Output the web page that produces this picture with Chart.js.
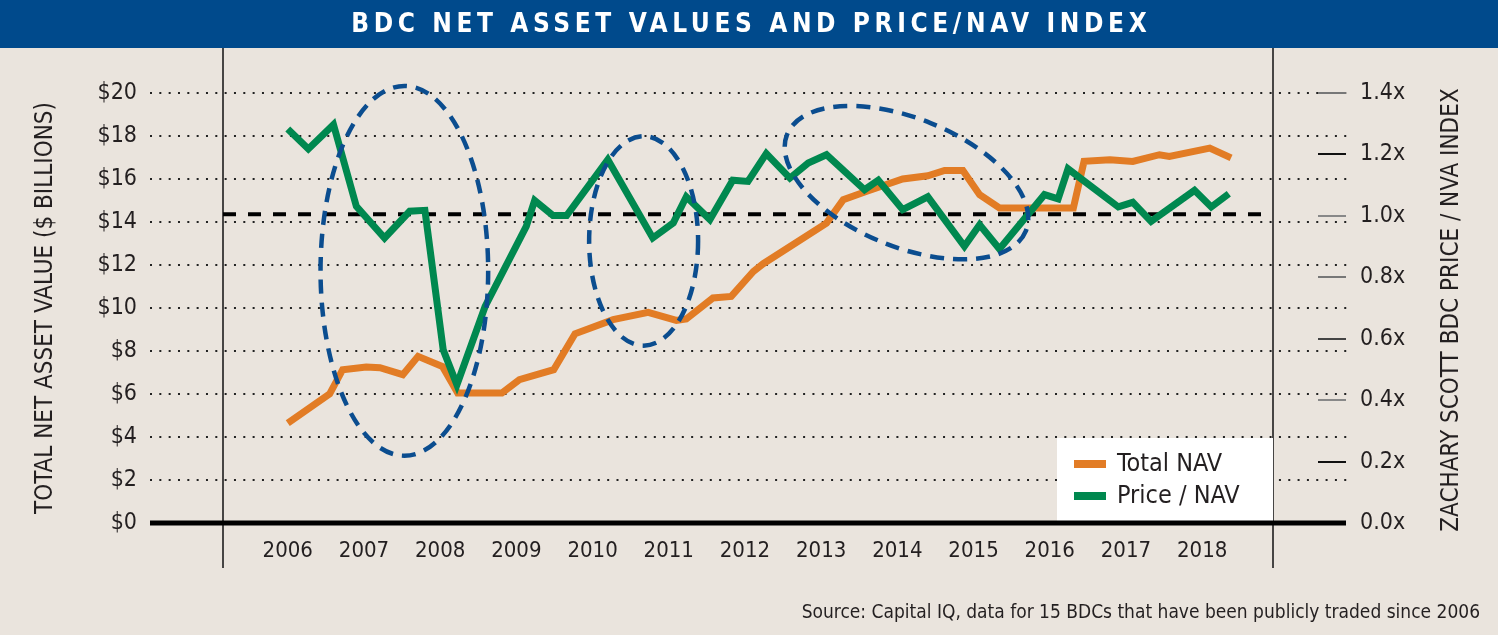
<!DOCTYPE html>
<html>
<head>
<meta charset="utf-8">
<script src="https://cdn.jsdelivr.net/npm/chart.js@4.4.0/dist/chart.umd.min.js"></script>
<style>
  html, body { margin:0; padding:0; background:#EAE4DD; }
  canvas { display:block; }
</style>
</head>
<body>
<canvas id="chart" width="1498" height="635"></canvas>
<script>
const FONT = "'Liberation Sans Narrow', 'DejaVu Sans Condensed', 'Roboto Condensed', sans-serif";
const INK = "#231f20";
const ORANGE = "#E27C25", GREEN = "#00884F", RING = "#0B4D8F", NAVY = "#004A8C", BG = "#EAE4DD";

const TITLE = "BDC NET ASSET VALUES AND PRICE/NAV INDEX";
const SOURCE = "Source: Capital IQ, data for 15 BDCs that have been publicly traded since 2006";
const LEFT_TITLE = "TOTAL NET ASSET VALUE ($ BILLIONS)";
const RIGHT_TITLE = "ZACHARY SCOTT BDC PRICE / NVA INDEX";

// x axis labels (years)
const yearTicks = [2006, 2007, 2008, 2009, 2010, 2011, 2012, 2013, 2014, 2015, 2016, 2017, 2018];
const dollarTicks = [0, 2, 4, 6, 8, 10, 12, 14, 16, 18, 20];
const ratioTicks = [0, 0.2, 0.4, 0.6, 0.8, 1.0, 1.2, 1.4];

// Total NAV ($ billions)
const navYears = [2006.00, 2006.55, 2006.72, 2007.03, 2007.21, 2007.51, 2007.71, 2008.03, 2008.23, 2008.81,
  2009.04, 2009.49, 2009.77, 2010.27, 2010.73, 2011.10, 2011.23, 2011.58, 2011.82, 2012.11,
  2012.24, 2013.07, 2013.29, 2013.59, 2014.07, 2014.40, 2014.62, 2014.86, 2015.08, 2015.34,
  2016.31, 2016.45, 2016.79, 2017.09, 2017.44, 2017.57, 2018.10, 2018.38];
const navValues = [4.65, 6.01, 7.13, 7.25, 7.22, 6.90, 7.75, 7.28, 6.05, 6.05,
  6.67, 7.13, 8.80, 9.46, 9.80, 9.42, 9.49, 10.47, 10.54, 11.70,
  12.06, 13.95, 15.04, 15.42, 16.00, 16.15, 16.40, 16.40, 15.27, 14.65,
  14.65, 16.82, 16.90, 16.82, 17.13, 17.05, 17.44, 16.98];

// Price / NAV index (x)
const pnYears = [2006.00, 2006.27, 2006.60, 2006.90, 2007.27, 2007.60, 2007.80, 2008.04, 2008.22, 2008.59,
  2009.13, 2009.24, 2009.48, 2009.66, 2010.20, 2010.79, 2011.06, 2011.23, 2011.54, 2011.84,
  2012.04, 2012.28, 2012.59, 2012.83, 2013.07, 2013.57, 2013.75, 2014.07, 2014.40, 2014.88,
  2015.08, 2015.34, 2015.93, 2016.11, 2016.24, 2016.90, 2017.09, 2017.33, 2017.90, 2018.12, 2018.35];
const pnValues = [1.283, 1.218, 1.297, 1.031, 0.928, 1.015, 1.018, 0.564, 0.450, 0.705,
  0.966, 1.050, 1.001, 1.001, 1.183, 0.928, 0.977, 1.062, 0.988, 1.116,
  1.112, 1.203, 1.123, 1.172, 1.199, 1.085, 1.116, 1.020, 1.062, 0.901,
  0.971, 0.892, 1.069, 1.055, 1.153, 1.029, 1.044, 0.982, 1.083, 1.029, 1.072];

const parityLevel = 1.0;

// dashed rings around periods of interest (centre year / $, half width in years, half height in $, tilt)
const ringYear = [2007.53, 2010.67, 2014.12];
const ringNav = [11.73, 13.12, 15.83];
const ringHalfYears = [1.10, 0.715, 1.69];
const ringHalfNav = [8.60, 4.87, 2.99];
const ringTilt = [0, 0, 22];

// right-hand tick marks are not all the same grey in the original
const tickMarkColor = { 0.2: "#111", 0.4: "#888", 0.6: "#444", 0.8: "#777", 1: "#888", 1.2: "#111", 1.4: "#777" };

const pts = (xs, ys) => xs.map((x, i) => ({ x, y: ys[i] }));

// kill the extra label room chart.js adds so the plot box lands where we want it
const noPad = (s) => { s.paddingTop = 0; s.paddingBottom = 0; s.paddingLeft = 0; s.paddingRight = 0; };

const decor = {
  id: "decor",
  beforeDraw(chart) {
    const { ctx, width, height } = chart;
    ctx.save();
    ctx.fillStyle = BG; ctx.fillRect(0, 0, width, height);
    ctx.fillStyle = NAVY; ctx.fillRect(0, 0, width, 48);
    ctx.fillStyle = "#fff";
    ctx.font = `bold 26px ${FONT}`;
    ctx.letterSpacing = "4.6px";
    ctx.textAlign = "center"; ctx.textBaseline = "middle";
    ctx.fillText(TITLE, width / 2 + 2.3, 25);
    ctx.restore();
  },
  beforeDatasetsDraw(chart) {
    const { ctx, chartArea: a, scales: { y, y1 } } = chart;
    ctx.save();
    // dotted grid, runs past both frame lines
    ctx.strokeStyle = "#222"; ctx.lineWidth = 2; ctx.setLineDash([2, 7.33]);
    dollarTicks.forEach((v) => {
      if (!v) return;
      const py = Math.round(y.getPixelForValue(v));
      ctx.beginPath(); ctx.moveTo(a.left - 73, py); ctx.lineTo(a.right + 74, py); ctx.stroke();
    });
    ctx.setLineDash([]);
    // little marks next to the right-hand labels
    ratioTicks.forEach((v) => {
      if (!v) return;
      const py = Math.round(y1.getPixelForValue(v));
      ctx.strokeStyle = tickMarkColor[+v.toFixed(1)] || "#777";
      ctx.beginPath(); ctx.moveTo(a.right + 45, py); ctx.lineTo(a.right + 73, py); ctx.stroke();
    });
    // frame lines
    ctx.strokeStyle = "#111"; ctx.lineWidth = 1.5;
    [a.left, a.right].forEach((px) => {
      ctx.beginPath(); ctx.moveTo(px, 48); ctx.lineTo(px, a.bottom + 45); ctx.stroke();
    });
    // parity line at 1.0x
    const py1 = y1.getPixelForValue(parityLevel) - 1.5;
    ctx.strokeStyle = "#000"; ctx.lineWidth = 4; ctx.setLineDash([13, 12]);
    ctx.beginPath(); ctx.moveTo(a.left, py1); ctx.lineTo(a.right, py1); ctx.stroke();
    ctx.setLineDash([]);
    // legend panel
    const top = y.getPixelForValue(4) + 1;
    ctx.fillStyle = "#fff";
    ctx.fillRect(a.right - 216, top, 216, a.bottom - top - 2);
    // zero line
    ctx.strokeStyle = "#000"; ctx.lineWidth = 5;
    ctx.beginPath(); ctx.moveTo(a.left - 73, a.bottom); ctx.lineTo(a.right + 73, a.bottom); ctx.stroke();
    ctx.restore();
  },
  afterDatasetsDraw(chart) {
    const { ctx, chartArea: a, scales: { x, y } } = chart;
    ctx.save();
    ctx.strokeStyle = RING; ctx.lineWidth = 4.5; ctx.setLineDash([14, 9]);
    ringYear.forEach((yr, i) => {
      const cx = x.getPixelForValue(yr), cy = y.getPixelForValue(ringNav[i]);
      const rx = x.getPixelForValue(yr + ringHalfYears[i]) - cx;
      const ry = cy - y.getPixelForValue(ringNav[i] + ringHalfNav[i]);
      ctx.beginPath(); ctx.ellipse(cx, cy, rx, ry, ringTilt[i] * Math.PI / 180, 0, Math.PI * 2); ctx.stroke();
    });
    ctx.setLineDash([]);
    // legend entries
    const top = y.getPixelForValue(4) + 1;
    ctx.font = `25px ${FONT}`; ctx.fillStyle = INK; ctx.textBaseline = "middle"; ctx.textAlign = "left";
    chart.data.datasets.forEach((ds, i) => {
      const ly = top + 26 + i * 32;
      ctx.strokeStyle = ds.borderColor; ctx.lineWidth = 8;
      ctx.beginPath(); ctx.moveTo(a.right - 199, ly); ctx.lineTo(a.right - 167, ly); ctx.stroke();
      ctx.fillText(ds.label, a.right - 156, ly);
    });
    // right axis title, reads bottom to top
    ctx.save();
    ctx.translate(a.right + 179, (a.top + a.bottom) / 2 + 2);
    ctx.rotate(-Math.PI / 2);
    ctx.font = `24px ${FONT}`; ctx.textAlign = "center";
    ctx.fillText(RIGHT_TITLE, 0, 0);
    ctx.restore();
    // source note
    ctx.font = `19px ${FONT}`; ctx.textAlign = "right";
    ctx.fillText(SOURCE, chart.width - 18, 613);
    ctx.restore();
  }
};

const tickFont = { family: FONT, size: 23 };

new Chart(document.getElementById("chart"), {
  type: "line",
  data: {
    datasets: [
      { label: "Total NAV", data: pts(navYears, navValues), yAxisID: "y", borderColor: ORANGE,
        borderWidth: 7, pointRadius: 0, tension: 0, borderJoinStyle: "miter", order: 2 },
      { label: "Price / NAV", data: pts(pnYears, pnValues), yAxisID: "y1", borderColor: GREEN,
        borderWidth: 7, pointRadius: 0, tension: 0, borderJoinStyle: "miter", order: 1 }
    ]
  },
  options: {
    responsive: false,
    animation: false,
    layout: { padding: { top: 93, left: 0, right: 0, bottom: 0 } },
    plugins: { legend: { display: false }, tooltip: { enabled: false } },
    scales: {
      x: {
        type: "linear", min: 2005.15, max: 2018.93,
        afterBuildTicks: (s) => { s.ticks = yearTicks.map((v) => ({ value: v })); },
        afterFit: (s) => { s.height = 112; noPad(s); },
        grid: { display: false, drawTicks: false }, border: { display: false },
        ticks: { font: { family: FONT, size: 22 }, color: INK, padding: 15, maxRotation: 0, autoSkip: false, callback: (v) => String(v) }
      },
      y: {
        position: "left", min: 0, max: 20,
        afterBuildTicks: (s) => { s.ticks = dollarTicks.map((v) => ({ value: v })); },
        afterFit: (s) => { s.width = 223; noPad(s); },
        grid: { display: false, drawTicks: false }, border: { display: false },
        ticks: { font: tickFont, color: INK, padding: 86, callback: (v) => "$" + v },
        title: { display: true, text: LEFT_TITLE, color: INK, font: { family: FONT, size: 24 }, padding: { top: 31, bottom: 0 } }
      },
      y1: {
        position: "right", min: 0, max: 1.4,
        afterBuildTicks: (s) => { s.ticks = ratioTicks.map((v) => ({ value: v })); },
        afterFit: (s) => { s.width = 225; noPad(s); },
        grid: { display: false, drawTicks: false }, border: { display: false },
        ticks: { font: tickFont, color: INK, padding: 87, callback: (v) => v.toFixed(1) + "x" }
      }
    }
  },
  plugins: [decor]
});
</script>
</body>
</html>
